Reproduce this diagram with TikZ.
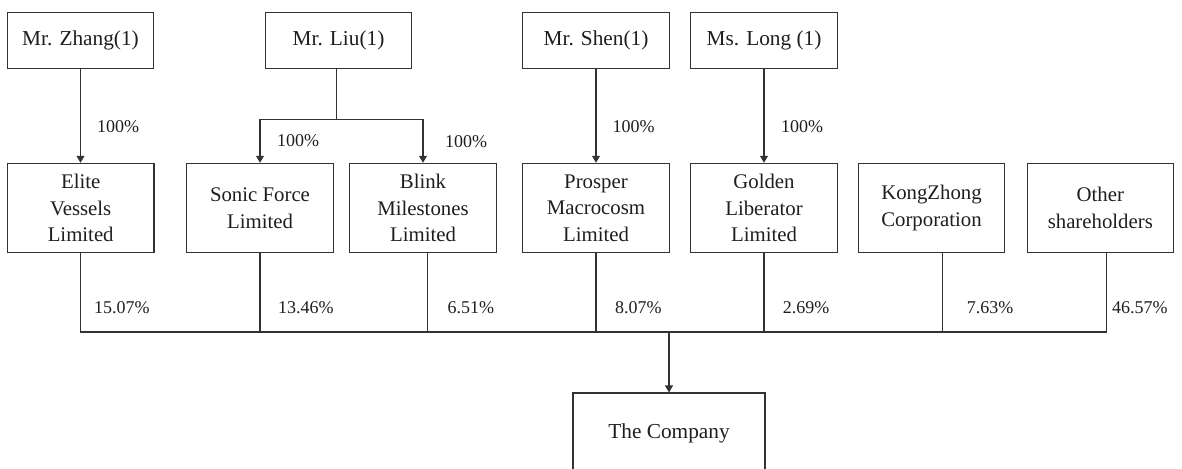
\documentclass[tikz,border=0pt]{standalone}
\usepackage{fontspec}
\setmainfont{Liberation Serif}
\usetikzlibrary{arrows.meta}
\definecolor{linecol}{RGB}{50,50,50}
\definecolor{textcol}{RGB}{30,30,30}
\tikzset{
  toprow/.style={draw=linecol, line width=1.1pt, rectangle, minimum width=146.5pt, minimum height=55.6pt, inner sep=0pt, align=center, text=textcol, font=\fontsize{21.3}{26.5}\selectfont},
  midrow/.style={draw=linecol, line width=1.1pt, rectangle, minimum width=146.5pt, minimum height=89.4pt, inner sep=0pt, align=center, text=textcol, font=\fontsize{20.8}{26.5}\selectfont},
  compbox/.style={draw=linecol, line width=1.1pt, rectangle, minimum width=192pt, minimum height=81pt, inner sep=0pt, align=center, text=textcol, font=\fontsize{21.3}{26.5}\selectfont},
  pct/.style={anchor=west, inner sep=0pt, text=textcol, font=\fontsize{18}{20}\selectfont},
  conn/.style={draw=linecol, line width=1.1pt},
  arr/.style={conn, -{Triangle[length=7pt,width=8pt]}}
}
\begin{document}
\begin{tikzpicture}[x=1pt,y=-1pt]
\useasboundingbox (0,0) rectangle (1182,468);
\clip (0,0) rectangle (1182,468);
% top row
\node[toprow] (zhang) at (80.5,40.5) {Mr. Zhang(1)};
\node[toprow] (liu) at (338.5,40.5) {Mr. Liu(1)};
\node[toprow] (shen) at (596,40.5) {Mr. Shen(1)};
\node[toprow] (long) at (764,40.5) {Ms. Long (1)};
% middle row
\node[midrow] (elite) at (80.7,208) {Elite\\Vessels\\Limited};
\node[midrow] (sonic) at (260,208) {Sonic Force\\Limited};
\node[midrow] (blink) at (423,208) {Blink\\Milestones\\Limited};
\node[midrow] (prosper) at (596,208) {Prosper\\Macrocosm\\Limited};
\node[midrow] (golden) at (764,208) {Golden\\Liberator\\Limited};
\node[midrow] (kong) at (931.5,208) {KongZhong\\Corporation};
\node[midrow] (other) at (1100.3,208) {Other\\shareholders};
% company
\node[compbox] (company) at (669,433.5) {The Company};
% top connectors
\draw[arr] (zhang.south) -- (zhang.south |- elite.north);
\coordinate (lsplit) at (336.7,119.5);
\draw[conn] (liu.south -| lsplit) -- (lsplit);
\draw[arr] (lsplit) -| (sonic.north);
\draw[arr] (lsplit) -| (blink.north);
\draw[arr] (shen.south) -- (shen.south |- prosper.north);
\draw[arr] (long.south) -- (long.south |- golden.north);
% top labels
\node[pct] (pz) at (97,126.7) {100\%};
\node[pct] (ps) at (277,141) {100\%};
\node[pct] (pb) at (445,141.5) {100\%};
\node[pct] (psh) at (612.3,126.7) {100\%};
\node[pct] (pl) at (781,126.7) {100\%};
% bus
\coordinate (bus) at (669,332);
\draw[conn] (elite.south) |- (bus);
\draw[conn] (sonic.south) |- (bus);
\draw[conn] ([xshift=4.6pt]blink.south) |- (bus);
\draw[conn] (prosper.south) |- (bus);
\draw[conn] (golden.south) |- (bus);
\draw[conn] ([xshift=11.1pt]kong.south) |- (bus);
\draw[conn] ([xshift=6.4pt]other.south) |- (bus);
\draw[arr] (bus) -- (company.north);
% bottom labels
\node[pct] (b1) at (94,308) {15.07\%};
\node[pct] (b2) at (278,308) {13.46\%};
\node[pct] (b3) at (447.5,308) {6.51\%};
\node[pct] (b4) at (615,308) {8.07\%};
\node[pct] (b5) at (782.6,308) {2.69\%};
\node[pct] (b6) at (966.7,308) {7.63\%};
\node[pct] (b7) at (1112,308) {46.57\%};
\end{tikzpicture}
\end{document}
